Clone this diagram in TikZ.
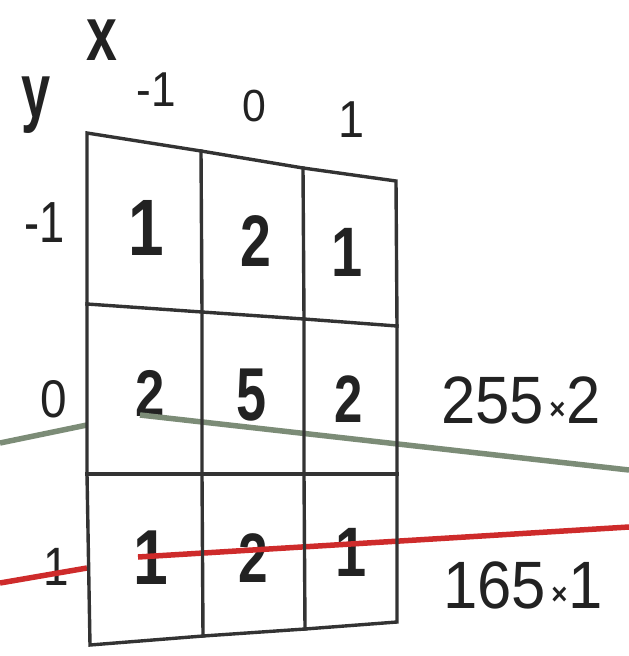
\documentclass[tikz,border=0pt]{standalone}
\usepackage{fontspec}
\setmainfont{Liberation Sans}
\usepackage{graphicx}
\newcommand\kdig[3]{\scalebox{#2}[1]{\fontsize{#1}{#1}\selectfont\bfseries #3}}
\newcommand\klab[3]{\scalebox{#2}[1]{\fontsize{#1}{#1}\selectfont #3}}
\newcommand\ktimes{\raisebox{4pt}{\fontsize{30}{30}\selectfont\bfseries ×}}
\definecolor{gridc}{HTML}{333333}
\definecolor{txtc}{HTML}{222222}
\definecolor{greenl}{HTML}{7C8C77}
\definecolor{redl}{HTML}{CE2B2B}
\begin{document}
\begin{tikzpicture}[x=1pt,y=-1pt,
  txt/.style={inner sep=0pt,outer sep=0pt,text=txtc},
  gridline/.style={draw=gridc,line width=3.4pt,line join=miter,line cap=rect},
  greenline/.style={draw=greenl,line width=5.5pt},
  redline/.style={draw=redl,line width=5.5pt}]
\useasboundingbox[fill=white] (0,0) rectangle (629,656);
% grid corner coordinates p<col><row>
\coordinate (p00) at (87,133);  \coordinate (p10) at (201,151); \coordinate (p20) at (303,168); \coordinate (p30) at (396,181);
\coordinate (p01) at (87,304);  \coordinate (p11) at (202,312); \coordinate (p21) at (304,319); \coordinate (p31) at (397,326);
\coordinate (p02) at (87,474);  \coordinate (p12) at (202,474); \coordinate (p22) at (304,474); \coordinate (p32) at (397,474);
\coordinate (p03) at (90,645);  \coordinate (p13) at (203,636); \coordinate (p23) at (305,629); \coordinate (p33) at (397,622);
% axis labels
\node[txt] (xl) at (102,40) {\kdig{77}{0.72}{x}};
\node[txt] (yl) at (36,105) {\kdig{77}{0.68}{y}};
\node[txt] (cm1) at (156,90) {\klab{49}{0.9}{-1}};
\node[txt] (c0) at (254,106) {\klab{45}{0.95}{0}};
\node[txt] (c1) at (352,120) {\klab{52}{0.9}{1}};
\node[txt] (rm1) at (45,223) {\klab{58}{0.78}{-1}};
\node[txt] (r0) at (54,399) {\klab{53}{0.9}{0}};
\node[txt] (r1) at (56,567) {\klab{54}{0.85}{1}};
% cell values
\node[txt] (v11) at (146,228) {\kdig{80}{0.8}{1}};
\node[txt] (v12) at (256,241) {\kdig{73}{0.76}{2}};
\node[txt] (v13) at (347,252) {\kdig{70}{0.8}{1}};
\node[txt] (v21) at (150,393) {\kdig{66}{0.8}{2}};
\node[txt] (v22) at (252,395) {\kdig{75}{0.72}{5}};
\node[txt] (v23) at (349,399) {\kdig{67}{0.76}{2}};
\node[txt] (v31) at (151,558) {\kdig{78}{0.8}{1}};
\node[txt] (v32) at (253,558) {\kdig{70}{0.76}{2}};
\node[txt] (v33) at (351,552) {\kdig{70}{0.8}{1}};
% products
\node[txt,anchor=base west] (prodA) at (441,423) {\scalebox{0.92}[1]{\fontsize{67}{67}\selectfont 255\hspace{6pt}\ktimes\hspace{1pt}2}};
\node[txt,anchor=base west] (prodB) at (443,608) {\scalebox{0.92}[1]{\fontsize{67}{67}\selectfont 165\hspace{6pt}\ktimes\hspace{1pt}1}};
% coloured lines
\coordinate (gL) at (0,443); \coordinate (gA) at (87,425);
\coordinate (gB) at (140,415); \coordinate (gR) at (629,470);
\coordinate (rL) at (0,583); \coordinate (rA) at (87,568);
\coordinate (rB) at (138,557); \coordinate (rR) at (629,527);
\draw[greenline] (gL) -- (gA);
\draw[greenline] (gB) -- (gR);
\draw[redline] (rL) -- (rA);
\draw[redline] (rB) -- (rR);
% grid
\draw[gridline] (p00) -- (p10) -- (p20) -- (p30) -- (p31) -- (p32) -- (p33) -- (p23) -- (p13) -- (p03) -- (p02) -- (p01) -- cycle;
\draw[gridline] (p01) -- (p11) -- (p21) -- (p31);
\draw[gridline] (p02) -- (p12) -- (p22) -- (p32);
\draw[gridline] (p10) -- (p11) -- (p12) -- (p13);
\draw[gridline] (p20) -- (p21) -- (p22) -- (p23);
\end{tikzpicture}
\end{document}
